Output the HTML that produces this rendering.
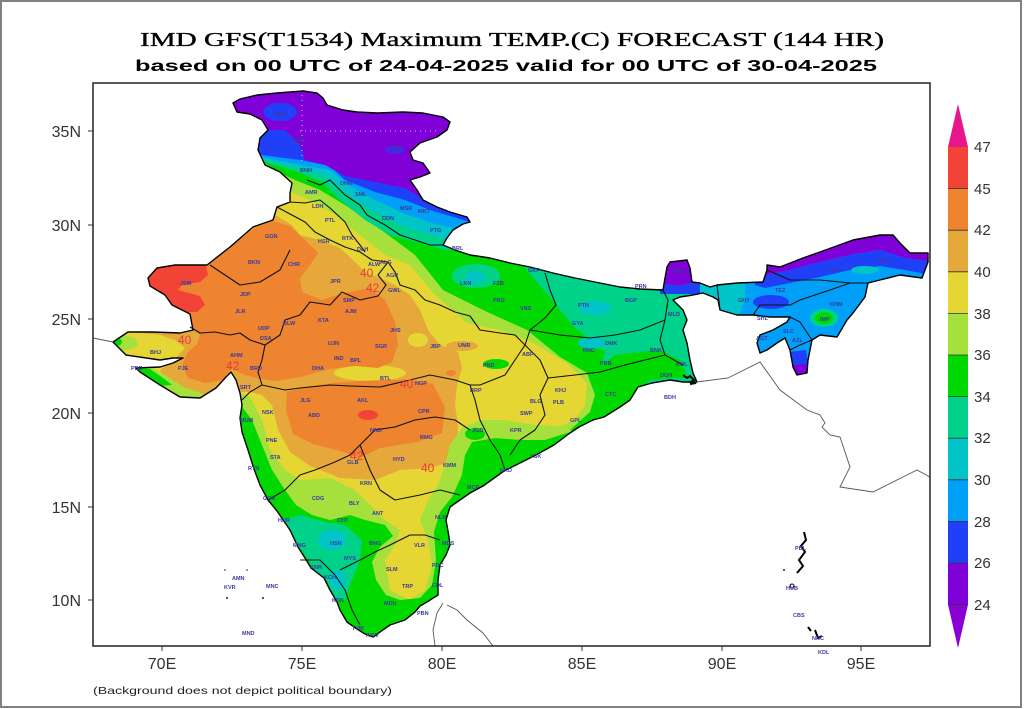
<!DOCTYPE html>
<html><head><meta charset="utf-8"><style>
html,body{margin:0;padding:0;background:#fff;}
svg{display:block;}
.st{font-family:"Liberation Sans",sans-serif;font-size:5.5px;font-weight:bold;fill:#3a3aa0;}
.rl{font-family:"Liberation Sans",sans-serif;font-size:12px;fill:#e83c3c;}
.ax{font-family:"Liberation Sans",sans-serif;font-size:16px;fill:#333;}
.cb{font-family:"Liberation Sans",sans-serif;font-size:15px;fill:#333;}
</style></head><body>
<svg width="1024" height="709" viewBox="0 0 1024 709" xmlns="http://www.w3.org/2000/svg">
<rect x="0" y="0" width="1024" height="709" fill="#fff"/>
<rect x="1" y="1" width="1020" height="706" fill="none" stroke="#808080" stroke-width="2"/>
<text x="512" y="46" text-anchor="middle" textLength="744" lengthAdjust="spacingAndGlyphs" font-family="Liberation Serif, serif" font-size="20" fill="#000" stroke="#000" stroke-width="0.35">IMD GFS(T1534) Maximum TEMP.(C) FORECAST (144 HR)</text>
<text x="506" y="71" text-anchor="middle" textLength="742" lengthAdjust="spacingAndGlyphs" font-family="Liberation Sans, sans-serif" font-weight="bold" font-size="16" fill="#000">based on 00 UTC of 24-04-2025 valid for 00 UTC of 30-04-2025</text>
<defs>
<clipPath id="ind"><polygon points="233,103 240,99 257,95 277,93 303,91 317,93 323,98 327,105 343,110 357,112 377,113 403,112 423,113 443,117 450,122 447,130 437,137 420,143 410,152 413,160 423,163 430,173 420,177 410,180 417,190 423,200 437,207 450,212 467,217 470,222 463,224 453,230 447,238 443,245 455,250 470,255 490,258 510,263 530,267 553,273 575,278 600,283 620,287 640,289 663,290 665,278 667,267 670,262 687,260 690,268 692,282 700,283 710,287 717,285 737,283 763,282 767,270 767,265 780,267 803,258 820,252 853,240 880,235 893,235 900,243 910,253 928,253 928,262 922,278 900,275 880,280 868,283 865,297 853,313 847,320 837,337 820,335 812,340 808,360 807,373 797,375 793,367 790,350 785,338 777,343 767,350 760,353 757,343 760,335 773,330 787,322 790,317 770,317 753,315 737,315 720,310 718,300 713,297 703,293 693,295 680,297 673,300 683,310 687,320 683,330 687,343 690,360 693,373 697,382 683,382 670,380 652,383 638,387 630,400 620,407 604,417 593,420 579,427 570,433 554,445 534,456 504,471 483,486 470,493 460,500 450,507 446,520 449,537 450,545 446,555 440,565 438,580 438,595 427,602 420,606 415,612 405,620 390,625 380,632 373,637 365,634 357,629 347,622 340,610 337,602 330,590 324,578 311,568 305,558 298,547 290,530 277,511 268,500 260,485 254,469 248,450 242,432 240,418 242,405 240,393 236,380 231,372 226,377 216,388 200,398 180,397 160,385 140,372 136,368 160,367 173,363 183,358 173,358 160,360 126,355 113,342 128,332 153,332 180,333 193,330 190,314 172,305 165,295 150,286 148,278 157,268 175,265 207,265 230,247 253,227 273,220 277,207 290,202 290,193 292,183 280,172 265,165 258,150 260,138 268,130 262,120 250,114 237,112"/></clipPath>
</defs>
<g clip-path="url(#ind)">
<rect x="90" y="80" width="850" height="570" fill="#e6d634"/>
<!-- hot -->
<polygon fill="#e6a83a" points="80,190 250,205 275,215 292,225 300,235 320,240 340,248 355,262 365,272 380,278 395,285 410,295 420,310 428,330 440,345 458,352 462,368 457,385 455,405 458,425 457,447 450,462 430,468 400,470 375,480 340,478 310,466 290,452 278,430 272,405 262,395 250,392 238,392 228,392 210,395 185,392 165,382 160,370 175,358 185,348 175,340 160,335 130,332 80,330"/>
<ellipse cx="370" cy="373" rx="36" ry="8" fill="#e6d634"/>
<ellipse cx="418" cy="340" rx="10" ry="7" fill="#e6d634"/>
<ellipse cx="462" cy="346" rx="16" ry="5" fill="#e6a83a"/>
<polygon fill="#ee8330" points="130,265 160,262 200,261 230,247 255,228 273,221 290,226 305,240 318,253 310,265 300,278 302,292 322,300 345,293 370,288 385,300 395,322 398,345 392,362 378,368 355,366 330,369 300,377 276,381 256,378 242,374 232,368 222,380 205,383 188,378 182,365 188,352 197,344 200,335 192,328 130,325"/>
<polygon fill="#ee8330" points="287,392 310,386 333,383 360,381 387,380 412,380 433,384 445,407 442,433 417,442 380,448 360,458 340,451 313,444 293,434 286,410"/>
<ellipse cx="451" cy="373" rx="5" ry="3" fill="#ee8330"/>
<polygon fill="#f24436" points="130,266 160,263 205,262 208,275 200,282 182,285 178,290 200,296 205,305 197,312 185,312 170,306 155,297 130,290"/>
<ellipse cx="368" cy="415" rx="10" ry="5" fill="#f24436"/>
<!-- cold -->
<polygon fill="#a6e03c" points="180,40 250,170 285,190 310,200 335,215 360,235 385,255 410,265 433,293 467,323 500,330 533,343 567,363 587,383 585,405 575,420 560,426 535,425 505,420 480,420 462,428 450,445 445,465 438,485 428,500 420,520 428,540 432,565 425,590 410,600 390,590 385,560 395,545 400,530 385,520 370,505 355,490 330,478 300,480 285,470 270,450 262,420 250,397 232,390 200,395 100,398 100,700 1000,700 1000,40"/>
<ellipse cx="124" cy="343" rx="14" ry="7" fill="#a6e03c"/>
<polygon fill="#a6e03c" points="133,366 150,366 165,375 185,388 200,392 200,400 160,395 135,378"/>
<polygon fill="#00d800" points="180,40 262,165 295,180 320,190 345,205 370,222 395,240 415,255 427,270 443,290 483,310 527,330 560,357 587,373 595,395 590,412 570,430 700,470 1000,470 1000,40"/>
<polygon fill="#00d800" points="225,400 240,404 252,420 262,445 272,470 285,490 296,505 312,515 330,520 350,515 365,520 385,525 393,536 380,547 372,562 376,580 386,595 400,600 420,598 432,585 436,560 434,532 440,512 452,497 462,475 465,455 472,442 495,438 520,440 545,440 570,432 600,420 600,700 200,700 200,400"/>
<polygon fill="#00d800" points="138,368 150,369 163,378 172,385 160,386 145,378"/>
<ellipse cx="116" cy="342" rx="6" ry="4" fill="#00d800"/>
<ellipse cx="496" cy="364" rx="13" ry="5" fill="#00d800"/>
<ellipse cx="475" cy="434" rx="10" ry="6" fill="#00d800"/>
<polygon fill="#00d28a" points="180,40 258,160 298,172 322,182 340,200 365,220 390,235 420,243 445,250 470,250 480,40"/>
<polygon fill="#00d28a" points="520,262 535,280 548,295 560,310 575,328 592,340 605,352 600,372 593,388 600,405 615,410 640,398 700,392 1000,392 1000,250"/>
<polygon fill="#00d28a" points="283,520 300,515 325,522 345,525 362,540 360,560 352,580 345,600 335,600 322,580 308,560 295,540"/>
<ellipse cx="476" cy="276" rx="24" ry="12" fill="#00d28a"/>
<polygon fill="#00d800" points="598,368 615,355 640,352 660,350 680,360 688,378 670,378 650,380 635,392 625,408 608,412 597,400 592,382"/>
<ellipse cx="332" cy="540" rx="14" ry="10" fill="#00c4c8"/>
<ellipse cx="338" cy="580" rx="8" ry="10" fill="#00c4c8"/>
<ellipse cx="595" cy="308" rx="16" ry="7" fill="#00c4c8"/>
<ellipse cx="592" cy="343" rx="14" ry="6" fill="#00c4c8"/>
<ellipse cx="475" cy="277" rx="10" ry="6" fill="#00c4c8"/>
<polygon fill="#00c4c8" points="180,40 256,158 300,168 325,176 345,192 370,210 400,225 430,235 455,242 475,240 480,40"/>
<polygon fill="#00a0f8" points="180,40 255,156 300,165 330,170 350,186 375,200 405,214 435,224 470,232 480,40"/>
<polygon fill="#2040f8" points="180,40 254,154 300,160 330,166 345,180 375,192 405,200 430,210 470,222 480,40"/>
<polygon fill="#8000d8" points="180,40 235,128 262,130 285,130 300,145 305,160 325,165 345,176 375,182 405,188 425,200 445,210 470,219 480,40"/>
<ellipse cx="280" cy="112" rx="17" ry="9" fill="#2040f8"/>
<ellipse cx="395" cy="150" rx="10" ry="4" fill="#2040f8" opacity="0.6"/>
<!-- NE -->
<polygon fill="#00a0f8" points="705,240 935,225 935,395 800,395 785,345 760,358 750,340 735,322 715,318 705,300"/>
<polygon fill="#00c4c8" points="700,280 745,280 745,300 738,318 715,320 700,305"/>
<ellipse cx="765" cy="323" rx="18" ry="6" fill="#00c4c8"/>
<ellipse cx="771" cy="302" rx="18" ry="7" fill="#2040f8"/>
<ellipse cx="824" cy="318" rx="14" ry="9" fill="#00d28a"/>
<ellipse cx="824" cy="318" rx="9" ry="6" fill="#00d800"/>
<polygon fill="#2040f8" points="788,352 806,350 810,378 792,378"/>
<polygon fill="#8000d8" points="792,365 806,364 808,378 794,378"/>
<polygon fill="#8000d8" points="755,250 935,222 935,262 905,258 880,250 850,255 820,262 790,270 765,275 755,270"/>
<polygon fill="#2040f8" points="755,268 765,275 790,270 820,262 850,255 880,250 905,258 935,262 935,276 905,270 880,266 850,270 820,277 790,283 765,288 755,285"/>
<ellipse cx="865" cy="270" rx="14" ry="4" fill="#00c4c8"/>
<polygon fill="#8000d8" points="660,255 696,255 694,282 680,286 664,284"/>
<polygon fill="#2040f8" points="660,283 680,286 694,282 700,283 700,294 660,294"/>
<!-- grid dotted -->
<line x1="302" y1="90" x2="302" y2="165" stroke="#fff" stroke-width="1" stroke-dasharray="1,4" opacity="0.7"/>
<line x1="300" y1="131" x2="440" y2="131" stroke="#fff" stroke-width="1" stroke-dasharray="1,4" opacity="0.7"/>
</g>
<!-- state boundaries -->
<g fill="none" stroke="#111" stroke-width="1.1" stroke-linejoin="round">
<polyline points="190,327 200,333 215,332 230,335 240,333 250,340 265,345"/>
<polyline points="265,345 262,360 258,372 262,385 250,392 242,400"/>
<polyline points="265,345 280,335 285,320 300,315 310,302 330,305 342,292 360,300 378,296 386,285 378,275 388,262"/>
<polyline points="277,207 290,214 305,222 315,232 330,240 345,247 360,252 372,260 388,262"/>
<polyline points="290,202 305,203 320,200 330,208 345,222 352,235 360,245 365,252"/>
<polyline points="307,180 320,185 330,180 345,195 360,205 367,215"/>
<polyline points="367,215 385,225 400,235 415,240 430,245 443,245"/>
<polyline points="388,262 395,272 400,285 415,290 425,300 440,305 455,312 470,316 480,330 500,333 515,335 525,345"/>
<polyline points="262,385 285,390 300,388 330,385 350,386 380,387 410,380 430,375 455,380 470,385"/>
<polyline points="525,345 515,360 505,375 480,385 470,385"/>
<polyline points="470,385 475,400 480,420 490,440 500,455 505,470"/>
<polyline points="268,500 285,490 300,475 315,470 335,462 350,455 360,445 375,430 395,427 415,420 435,417 455,420 470,430"/>
<polyline points="360,445 370,470 380,490 395,500 420,495 440,490 460,495"/>
<polyline points="300,560 320,560 335,575 345,590 352,610 360,625"/>
<polyline points="340,570 360,560 375,552 390,545 400,540 410,535 425,535 440,540"/>
<polyline points="545,273 550,290 556,305 545,318 530,330 525,345"/>
<polyline points="530,330 560,335 590,338 615,335 640,330 665,320"/>
<polyline points="525,345 540,360 548,378 540,395 545,415 535,430 520,440 510,455"/>
<polyline points="548,378 575,375 600,372 625,365 645,360 665,355 683,365"/>
<polyline points="663,290 668,300 665,320 660,340 665,355"/>
<polyline points="717,285 720,310"/>
<polyline points="753,315 760,305 790,305 800,300 815,295 830,290 850,283"/>
<polyline points="767,270 790,280 820,280 850,283 868,283"/>
<polyline points="790,317 800,322 812,340 800,345 790,350"/>
<polyline points="210,265 225,275 240,285 260,282 280,270 290,250"/>
</g>
<!-- outline -->
<polygon fill="none" stroke="#000" stroke-width="1.4" stroke-linejoin="round" points="233,103 240,99 257,95 277,93 303,91 317,93 323,98 327,105 343,110 357,112 377,113 403,112 423,113 443,117 450,122 447,130 437,137 420,143 410,152 413,160 423,163 430,173 420,177 410,180 417,190 423,200 437,207 450,212 467,217 470,222 463,224 453,230 447,238 443,245 455,250 470,255 490,258 510,263 530,267 553,273 575,278 600,283 620,287 640,289 663,290 665,278 667,267 670,262 687,260 690,268 692,282 700,283 710,287 717,285 737,283 763,282 767,270 767,265 780,267 803,258 820,252 853,240 880,235 893,235 900,243 910,253 928,253 928,262 922,278 900,275 880,280 868,283 865,297 853,313 847,320 837,337 820,335 812,340 808,360 807,373 797,375 793,367 790,350 785,338 777,343 767,350 760,353 757,343 760,335 773,330 787,322 790,317 770,317 753,315 737,315 720,310 718,300 713,297 703,293 693,295 680,297 673,300 683,310 687,320 683,330 687,343 690,360 693,373 697,382 683,382 670,380 652,383 638,387 630,400 620,407 604,417 593,420 579,427 570,433 554,445 534,456 504,471 483,486 470,493 460,500 450,507 446,520 449,537 450,545 446,555 440,565 438,580 438,595 427,602 420,606 415,612 405,620 390,625 380,632 373,637 365,634 357,629 347,622 340,610 337,602 330,590 324,578 311,568 305,558 298,547 290,530 277,511 268,500 260,485 254,469 248,450 242,432 240,418 242,405 240,393 236,380 231,372 226,377 216,388 200,398 180,397 160,385 140,372 136,368 160,367 173,363 183,358 173,358 160,360 126,355 113,342 128,332 153,332 180,333 193,330 190,314 172,305 165,295 150,286 148,278 157,268 175,265 207,265 230,247 253,227 273,220 277,207 290,202 290,193 292,183 280,172 265,165 258,150 260,138 268,130 262,120 250,114 237,112"/>
<path d="M683,375 l4,3 l3,-2 l4,4 l-3,2 l5,1 l-6,1" fill="none" stroke="#000" stroke-width="2"/>
<!-- other countries -->
<g fill="none" stroke="#555" stroke-width="0.9">
<polyline points="93,338 113,342"/>
<polyline points="697,382 728,378 760,362 780,390 807,410 820,415 825,423 822,427 830,435 840,437 850,467 840,487 873,492 913,472 917,470 930,477"/>
<polyline points="443,603 437,613 433,630 435,646"/>
<polyline points="447,605 457,610 467,620 483,633 493,646"/>
</g>
<!-- islands -->
<g fill="none" stroke="#000" stroke-width="2">
<polyline points="804,532 806,540 801,546 805,552 799,560 803,566 797,573"/>
<polyline points="808,627 811,631"/><polyline points="815,630 818,638 822,636"/>
</g>
<circle cx="792" cy="586" r="2" fill="none" stroke="#000" stroke-width="1"/>
<g fill="#222"><circle cx="227" cy="598" r="1"/><circle cx="263" cy="598" r="1"/><circle cx="225" cy="570" r="0.8"/><circle cx="247" cy="570" r="0.8"/><circle cx="784" cy="570" r="1"/></g>
<!-- red contour labels -->
<text class="rl" x="360" y="277">40</text>
<text class="rl" x="366" y="292">42</text>
<text class="rl" x="178" y="344">40</text>
<text class="rl" x="226" y="370">42</text>
<text class="rl" x="400" y="388">40</text>
<text class="rl" x="350" y="460">42</text>
<text class="rl" x="421" y="472">40</text>
<!-- station labels -->
<g class="st">
<text x="275" y="116">SGR</text><text x="292" y="142">GMG</text><text x="390" y="150">LEH</text><text x="300" y="172">BNH</text>
<text x="340" y="185">DHM</text><text x="355" y="196">SML</text><text x="400" y="210">MSR</text><text x="382" y="220">DDN</text>
<text x="305" y="194">AMR</text><text x="312" y="208">LDH</text><text x="325" y="222">PTL</text><text x="418" y="213">MKT</text>
<text x="430" y="232">PTG</text><text x="452" y="250">BRL</text><text x="318" y="243">HSR</text><text x="342" y="240">RTK</text>
<text x="357" y="251">DLH</text><text x="380" y="264">ALG</text><text x="386" y="277">AGR</text><text x="388" y="292">GWL</text>
<text x="368" y="266">ALW</text><text x="265" y="238">GGN</text><text x="248" y="264">BKN</text><text x="180" y="285">JSM</text>
<text x="240" y="296">JDP</text><text x="288" y="266">CHR</text><text x="330" y="283">JPR</text><text x="343" y="302">SMP</text>
<text x="345" y="313">AJM</text><text x="235" y="313">JLR</text><text x="283" y="325">BLW</text><text x="318" y="322">KTA</text>
<text x="258" y="330">UDP</text><text x="260" y="340">DSA</text><text x="150" y="354">BHJ</text><text x="131" y="370">PBD</text>
<text x="178" y="370">PJE</text><text x="230" y="357">AHM</text><text x="250" y="370">BRD</text><text x="240" y="389">SRT</text>
<text x="328" y="345">UJN</text><text x="350" y="362">BPL</text><text x="312" y="370">DHA</text><text x="334" y="360">IND</text>
<text x="375" y="348">SGR</text><text x="390" y="332">JHS</text><text x="430" y="348">JBP</text><text x="458" y="347">UMR</text>
<text x="262" y="414">NSK</text><text x="240" y="422">MUM</text><text x="266" y="442">PNE</text><text x="270" y="459">STA</text>
<text x="248" y="470">RTN</text><text x="300" y="402">JLG</text><text x="357" y="402">AKL</text><text x="308" y="417">ABD</text>
<text x="370" y="432">NND</text><text x="418" y="413">CPR</text><text x="415" y="385">NGP</text><text x="380" y="380">BTL</text>
<text x="420" y="439">RMG</text><text x="347" y="464">GLB</text><text x="393" y="461">HYD</text><text x="443" y="467">KMM</text>
<text x="360" y="485">KRN</text><text x="372" y="515">ANT</text><text x="349" y="505">BLY</text><text x="312" y="500">CDG</text>
<text x="263" y="500">GOA</text><text x="278" y="522">HNR</text><text x="337" y="522">CHT</text><text x="330" y="545">HSN</text>
<text x="344" y="560">MYS</text><text x="369" y="545">BNG</text><text x="414" y="547">VLR</text><text x="442" y="545">MDS</text>
<text x="386" y="571">SLM</text><text x="432" y="567">PDC</text><text x="402" y="588">TRP</text><text x="432" y="587">CDL</text>
<text x="384" y="605">MDU</text><text x="332" y="602">KDK</text><text x="324" y="579">KCH</text><text x="310" y="569">KNR</text>
<text x="293" y="547">MNG</text><text x="352" y="630">TVM</text><text x="417" y="615">PBN</text><text x="366" y="637">KKM</text>
<text x="435" y="519">NLR</text><text x="467" y="489">MCP</text><text x="470" y="392">BRP</text><text x="483" y="367">PND</text>
<text x="522" y="356">ABP</text><text x="555" y="392">KHJ</text><text x="600" y="365">PRB</text><text x="605" y="396">CTC</text>
<text x="570" y="422">GPL</text><text x="530" y="458">VSK</text><text x="500" y="472">KKD</text><text x="530" y="403">BLG</text>
<text x="553" y="404">PLB</text><text x="520" y="415">SWP</text><text x="472" y="432">JGD</text><text x="510" y="432">KPR</text>
<text x="460" y="285">LKN</text><text x="493" y="285">FZB</text><text x="528" y="272">GKP</text><text x="493" y="302">PRG</text>
<text x="520" y="310">VNS</text><text x="578" y="307">PTN</text><text x="572" y="325">GYA</text><text x="625" y="302">BGP</text>
<text x="635" y="288">PRN</text><text x="605" y="345">DMK</text><text x="583" y="352">RNC</text><text x="668" y="316">MLD</text>
<text x="676" y="366">KOL</text><text x="650" y="352">BNK</text><text x="660" y="377">DGH</text><text x="738" y="302">GHY</text>
<text x="775" y="292">TEZ</text><text x="878" y="262">PSG</text><text x="830" y="272">ITN</text><text x="757" y="320">SHL</text>
<text x="783" y="333">SLC</text><text x="756" y="340">AGT</text><text x="820" y="321">IMP</text><text x="830" y="306">KHM</text>
<text x="792" y="342">AZL</text><text x="672" y="273">GNG</text><text x="664" y="399">BDH</text>
<text x="232" y="580">AMN</text><text x="224" y="589">KVR</text><text x="266" y="588">MNC</text><text x="242" y="635">MND</text>
<text x="795" y="550">PBL</text><text x="786" y="590">HUB</text><text x="793" y="617">CBS</text><text x="812" y="640">NNC</text>
<text x="818" y="654">KDL</text>
</g>
<!-- frame -->
<rect x="93" y="83" width="837" height="563" fill="none" stroke="#222" stroke-width="1.5"/>
<g stroke="#333" stroke-width="1">
<line x1="88" y1="131" x2="93" y2="131"/><line x1="88" y1="225" x2="93" y2="225"/><line x1="88" y1="319" x2="93" y2="319"/>
<line x1="88" y1="413" x2="93" y2="413"/><line x1="88" y1="507" x2="93" y2="507"/><line x1="88" y1="600" x2="93" y2="600"/>
<line x1="162" y1="646" x2="162" y2="651"/><line x1="302" y1="646" x2="302" y2="651"/><line x1="442" y1="646" x2="442" y2="651"/>
<line x1="582" y1="646" x2="582" y2="651"/><line x1="722" y1="646" x2="722" y2="651"/><line x1="861" y1="646" x2="861" y2="651"/>
</g>
<g class="ax" text-anchor="end">
<text x="81" y="137">35N</text><text x="81" y="231">30N</text><text x="81" y="325">25N</text>
<text x="81" y="419">20N</text><text x="81" y="513">15N</text><text x="81" y="606">10N</text>
</g>
<g class="ax" text-anchor="middle">
<text x="162" y="669">70E</text><text x="302" y="669">75E</text><text x="442" y="669">80E</text>
<text x="582" y="669">85E</text><text x="722" y="669">90E</text><text x="861" y="669">95E</text>
</g>
<text x="93" y="694" font-family="Liberation Sans, sans-serif" font-size="10.5" fill="#222" textLength="299" lengthAdjust="spacingAndGlyphs">(Background does not depict political boundary)</text>
<!-- colorbar -->
<polygon points="958,104 968,147 948,147" fill="#e8168c"/>
<rect x="948" y="147" width="20" height="41.6" fill="#f24436"/>
<rect x="948" y="188.6" width="20" height="41.6" fill="#ee8330"/>
<rect x="948" y="230.2" width="20" height="41.6" fill="#e6a83a"/>
<rect x="948" y="271.8" width="20" height="41.6" fill="#e6d634"/>
<rect x="948" y="313.4" width="20" height="41.6" fill="#a6e03c"/>
<rect x="948" y="355" width="20" height="41.6" fill="#00d800"/>
<rect x="948" y="396.6" width="20" height="41.6" fill="#00d28a"/>
<rect x="948" y="438.2" width="20" height="41.6" fill="#00c4c8"/>
<rect x="948" y="479.8" width="20" height="41.6" fill="#00a0f8"/>
<rect x="948" y="521.4" width="20" height="41.6" fill="#2040f8"/>
<rect x="948" y="563" width="20" height="41.6" fill="#8000d8"/>
<polygon points="948,604.6 968,604.6 958,648" fill="#8a00d4"/>
<g stroke="#333" stroke-width="0.8">
<line x1="948" y1="188.6" x2="968" y2="188.6"/><line x1="948" y1="230.2" x2="968" y2="230.2"/>
<line x1="948" y1="271.8" x2="968" y2="271.8"/><line x1="948" y1="313.4" x2="968" y2="313.4"/>
<line x1="948" y1="355" x2="968" y2="355"/><line x1="948" y1="396.6" x2="968" y2="396.6"/>
<line x1="948" y1="438.2" x2="968" y2="438.2"/><line x1="948" y1="479.8" x2="968" y2="479.8"/>
<line x1="948" y1="521.4" x2="968" y2="521.4"/><line x1="948" y1="563" x2="968" y2="563"/>
<line x1="948" y1="604.6" x2="968" y2="604.6"/>
</g>
<g class="cb">
<text x="974" y="152">47</text><text x="974" y="194">45</text><text x="974" y="235">42</text>
<text x="974" y="277">40</text><text x="974" y="319">38</text><text x="974" y="360">36</text>
<text x="974" y="402">34</text><text x="974" y="443">32</text><text x="974" y="485">30</text>
<text x="974" y="527">28</text><text x="974" y="568">26</text><text x="974" y="610">24</text>
</g>
</svg>
</body></html>
